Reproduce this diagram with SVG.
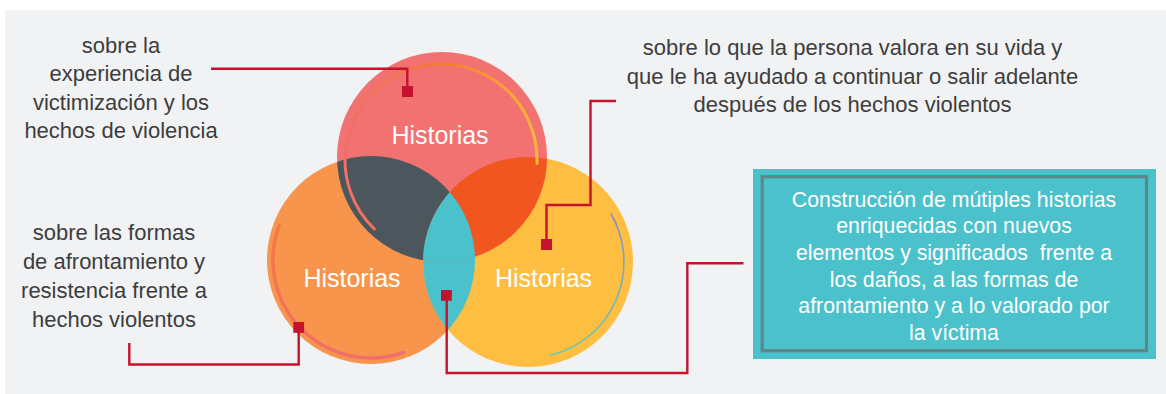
<svg xmlns="http://www.w3.org/2000/svg" width="1166" height="394" viewBox="0 0 1166 394">
  <style>
    .lbl { font-family: "Liberation Sans", Arial, sans-serif; font-size: 22px; fill: #3d3d3d; text-anchor: middle; }
    .hist { font-family: "Liberation Sans", Arial, sans-serif; font-size: 25px; fill: #ffffff; text-anchor: middle; }
    .box { font-family: "Liberation Sans", Arial, sans-serif; font-size: 21.3px; fill: #ffffff; text-anchor: middle; white-space: pre; }
    .conn { fill: none; stroke: #c4122f; stroke-width: 2.4; }
    .sq { fill: #c4122f; }
  </style>
  <defs>
    <clipPath id="clipLeft"><circle cx="371" cy="260" r="104"/></clipPath>
    <clipPath id="clipRight"><circle cx="528" cy="262" r="105"/></clipPath>
    <linearGradient id="gTop" gradientUnits="userSpaceOnUse" x1="345" y1="0" x2="540" y2="0">
      <stop offset="0" stop-color="#f26e6a"/>
      <stop offset="0.5" stop-color="#f47a30"/>
      <stop offset="1" stop-color="#fcb83c"/>
    </linearGradient>
    <linearGradient id="gLeft" gradientUnits="userSpaceOnUse" x1="0" y1="226" x2="0" y2="356">
      <stop offset="0" stop-color="#f57a40"/>
      <stop offset="1" stop-color="#f26e6a"/>
    </linearGradient>
    <linearGradient id="gRight" gradientUnits="userSpaceOnUse" x1="0" y1="213" x2="0" y2="356">
      <stop offset="0" stop-color="#8a8ec6"/>
      <stop offset="1" stop-color="#72caa8"/>
    </linearGradient>
  </defs>

  <rect x="0" y="0" width="1166" height="394" fill="#ffffff"/>
  <rect x="5" y="10" width="1161" height="384" fill="#f1f2f4"/>

  <g id="venn">
    <g id="circle-left">
      <circle cx="371" cy="260" r="104" fill="#f7954d"/>
    </g>
    <g id="circle-right">
      <circle cx="528" cy="262" r="105" fill="#fdbe42"/>
    </g>
    <g id="circle-top">
      <circle cx="442" cy="157" r="105" fill="#f27171"/>
    </g>
    <g id="overlaps">
      <circle cx="442" cy="157" r="105" fill="#4b575c" clip-path="url(#clipLeft)"/>
      <circle cx="442" cy="157" r="105" fill="#f0561e" clip-path="url(#clipRight)"/>
      <g clip-path="url(#clipRight)">
        <circle cx="371" cy="260" r="104" fill="#4bc1cb"/>
        <circle cx="442" cy="157" r="105" fill="none" stroke="#62b3ba" stroke-width="1" clip-path="url(#clipLeft)"/>
      </g>
    </g>
    <g id="arcs" fill="none" stroke-linecap="round">
      <path d="M 374.3 229 A 96 96 0 1 1 537 163.4" stroke="url(#gTop)" stroke-width="3"/>
      <path d="M 279.2 225.7 A 98 98 0 0 0 403.4 352.5" stroke="url(#gLeft)" stroke-width="3.5"/>
      <path d="M 611.1 214 A 96 96 0 0 1 550.4 355.3" stroke="url(#gRight)" stroke-width="1.6"/>
    </g>
    <text class="hist" x="440" y="143.5">Historias</text>
    <text class="hist" x="352" y="287">Historias</text>
    <text class="hist" x="543.5" y="287">Historias</text>
  </g>

  <g id="label-top-left">
    <text class="lbl" x="121" y="52.5">sobre la</text>
    <text class="lbl" x="121" y="81">experiencia de</text>
    <text class="lbl" x="121" y="109.5">victimización y los</text>
    <text class="lbl" x="121" y="138">hechos de violencia</text>
  </g>

  <g id="label-top-right">
    <text class="lbl" x="852.5" y="55">sobre lo que la persona valora en su vida y</text>
    <text class="lbl" x="852.5" y="83.5">que le ha ayudado a continuar o salir adelante</text>
    <text class="lbl" x="852.5" y="112">después de los hechos violentos</text>
  </g>

  <g id="label-bottom-left">
    <text class="lbl" x="114" y="240">sobre las formas</text>
    <text class="lbl" x="114" y="269">de afrontamiento y</text>
    <text class="lbl" x="114" y="297.5">resistencia frente a</text>
    <text class="lbl" x="114" y="326.5">hechos violentos</text>
  </g>

  <g id="result-box">
    <rect x="753" y="169" width="403" height="190" fill="#4bc1cb"/>
    <rect x="762.2" y="176.7" width="384.3" height="174" fill="none" stroke="#5b8788" stroke-width="3.2"/>
    <text class="box" x="954" y="206.5">Construcción de mútiples historias</text>
    <text class="box" x="954" y="233.2">enriquecidas con nuevos</text>
    <text class="box" x="954" y="260" xml:space="preserve">elementos y significados  frente a</text>
    <text class="box" x="954" y="286.7">los daños, a las formas de</text>
    <text class="box" x="954" y="313.4">afrontamiento y a lo valorado por</text>
    <text class="box" x="954" y="340">la víctima</text>
  </g>

  <g id="connectors">
    <path class="conn" d="M 211 68.8 H 407.3 V 90"/>
    <rect class="sq" x="402" y="86" width="11" height="11"/>
    <path class="conn" d="M 616 101 H 590.5 V 205 H 546.5 V 244"/>
    <rect class="sq" x="541" y="239" width="11" height="11"/>
    <path class="conn" d="M 129.3 343 V 364.5 H 298.7 V 327"/>
    <rect class="sq" x="293.3" y="322" width="10.8" height="10.8"/>
    <path class="conn" d="M 446.7 296 V 373 H 687.3 V 263.3 H 743.5"/>
    <rect class="sq" x="441" y="290" width="10.8" height="10.8"/>
  </g>
</svg>
